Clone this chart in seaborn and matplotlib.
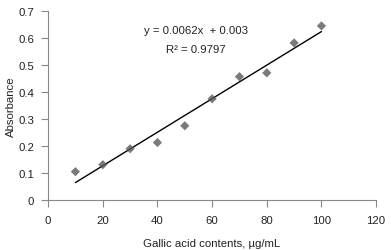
import numpy as np
import pandas as pd
import seaborn as sns
import matplotlib
matplotlib.use("Agg")
import matplotlib.pyplot as plt

concentration = [10, 20, 30, 40, 50, 60, 70, 80, 90, 100]
absorbance = [0.105, 0.131, 0.190, 0.213, 0.275, 0.375, 0.457, 0.471, 0.582, 0.645]
x_ticks = [0, 20, 40, 60, 80, 100, 120]
y_ticks = [0, 0.1, 0.2, 0.3, 0.4, 0.5, 0.6, 0.7]
equation_text = "y = 0.0062x  + 0.003"
r2_text = "R² = 0.9797"

sns.set_style("white")
plt.rcParams['font.family'] = ['Liberation Sans', 'DejaVu Sans']

df = pd.DataFrame({"x": concentration, "y": absorbance})

fig = plt.figure(figsize=(3.91, 2.51), dpi=100)
ax = fig.add_axes([0.123, 0.199, 0.839, 0.753])

sns.regplot(data=df, x="x", y="y", ax=ax, ci=None, marker="D",
            scatter_kws=dict(s=22, color="#595959", edgecolors="none", zorder=3),
            line_kws=dict(color="black", lw=1.0, zorder=2))

ax.set_xlim(0, 120)
ax.set_ylim(0, 0.7)
ax.set_xticks(x_ticks)
ax.set_xticklabels([str(t) for t in x_ticks])
ax.set_yticks(y_ticks)
ax.set_yticklabels([f"{t:g}" for t in y_ticks])
ax.tick_params(axis="both", direction="out", length=5, width=0.8, color="#888888",
               labelsize=8.2, colors="#222222", left=True, bottom=True)
ax.tick_params(axis="x", pad=6)
ax.tick_params(axis="y", pad=5)
for side in ["top", "right"]:
    ax.spines[side].set_visible(False)
for side in ["left", "bottom"]:
    ax.spines[side].set_color("#888888")
    ax.spines[side].set_linewidth(0.8)

ax.set_xlabel("Gallic acid contents, µg/mL", fontsize=8.2, color="#222222", labelpad=9)
ax.set_ylabel("Absorbance", fontsize=8.2, color="#222222", labelpad=1.5)

ax.text(54, 0.63, equation_text, fontsize=8.2, ha="center", va="center", color="#222222")
ax.text(54, 0.558, r2_text, fontsize=8.2, ha="center", va="center", color="#222222")

fig.savefig("out.png", dpi=100)
